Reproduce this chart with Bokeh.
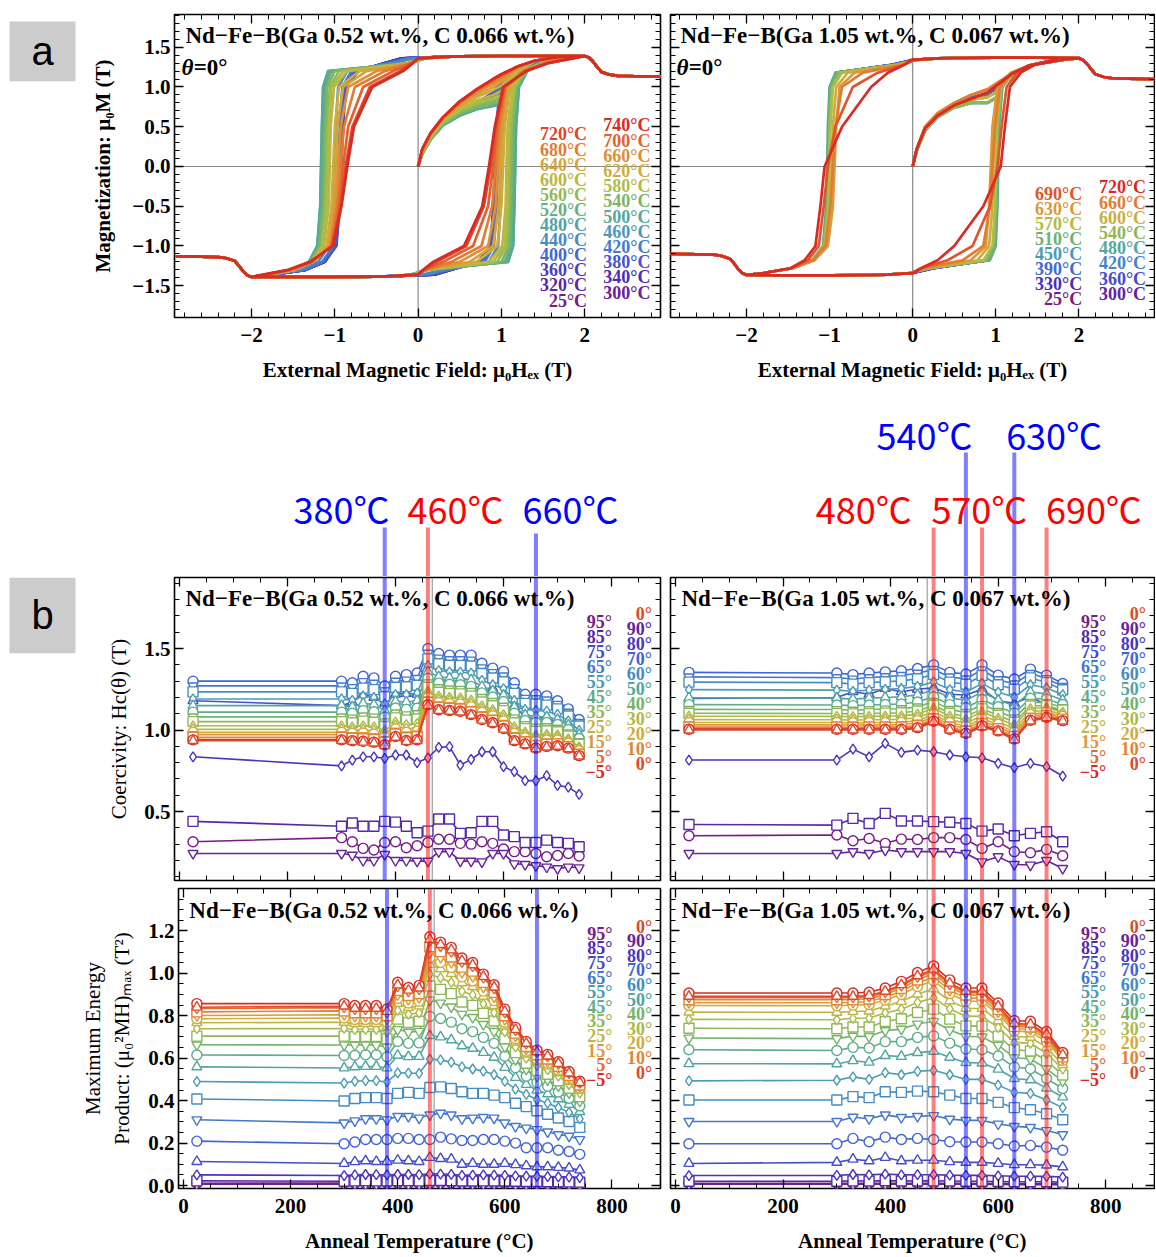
from bokeh.plotting import figure
from bokeh.models import (Range1d, LinearAxis, SingleIntervalTicker, Span, Label,
                          ColumnDataSource, BoxAnnotation, CustomJSTickFormatter,
                          CustomLabelingPolicy)
from bokeh.layouts import row, column
from bokeh.embed import file_html
from bokeh.resources import INLINE
from bokeh.core.properties import value

# ======================= DATA =======================
TEMPS_A = [25, 300, 320, 340, 360, 380, 400, 420, 440, 460, 480, 500, 520, 540, 560, 580, 600, 620, 640, 660, 680, 700, 720, 740]
TEMPS_B = [25, 300, 330, 360, 390, 420, 450, 480, 510, 540, 570, 600, 630, 660, 690, 720]

# ---- (a) hysteresis loops (theta = 0) ----
HEAD_X = [2.9, 2.6, 2.4, 2.3, 2.2, 2.15, 2.1, 2.05, 2.0, 1.5, 1.0, 0.5, 0.3]
HEAD_M_A = [1.13, 1.135, 1.14, 1.155, 1.19, 1.25, 1.32, 1.37, 1.39, 1.39, 1.39, 1.385, 1.38]
HEAD_M_B = [1.10, 1.105, 1.11, 1.125, 1.16, 1.22, 1.29, 1.34, 1.365, 1.37, 1.37, 1.365, 1.36]
LEVELS_A = [1.36, 1.30, 1.20, 1.00, 0.50, 0.00, -0.50, -1.00, -1.20, -1.30, -1.36]
LEVELS_B = [1.34, 1.28, 1.18, 1.00, 0.50, 0.00, -0.50, -1.00, -1.18, -1.28, -1.34]
INIT_X = [0, 0.05, 0.15, 0.3, 0.5, 0.7, 0.9, 1.0, 1.1, 1.2, 1.4, 1.7, 2.0]

DESC_A = [
    [-0.20, -0.40, -0.72, -0.88, -0.92, -0.94, -0.96, -1.00, -1.12, -1.35, -1.75],
    [-0.20, -0.40, -0.72, -0.88, -0.92, -0.94, -0.96, -1.00, -1.12, -1.35, -1.75],
    [-0.18, -0.40, -0.72, -0.88, -0.92, -0.94, -0.96, -1.00, -1.12, -1.35, -1.75],
    [-0.18, -0.38, -0.72, -0.88, -0.92, -0.935, -0.955, -1.00, -1.12, -1.35, -1.75],
    [-0.16, -0.38, -0.74, -0.88, -0.91, -0.93, -0.95, -0.99, -1.12, -1.35, -1.75],
    [-0.14, -0.36, -0.74, -0.87, -0.90, -0.92, -0.94, -0.98, -1.12, -1.35, -1.75],
    [-0.12, -0.36, -0.78, -0.90, -0.93, -0.95, -0.97, -1.01, -1.14, -1.36, -1.76],
    [-0.10, -0.36, -0.80, -0.91, -0.94, -0.96, -0.98, -1.02, -1.15, -1.37, -1.76],
    [-0.05, -0.30, -0.85, -0.96, -0.99, -1.01, -1.03, -1.07, -1.20, -1.42, -1.78],
    [0.06, -0.12, -1.04, -1.12, -1.14, -1.15, -1.16, -1.20, -1.30, -1.50, -1.80],
    [0.08, -0.10, -1.08, -1.14, -1.155, -1.165, -1.175, -1.21, -1.31, -1.51, -1.80],
    [0.08, -0.10, -1.08, -1.14, -1.155, -1.165, -1.175, -1.21, -1.31, -1.51, -1.80],
    [0.08, -0.10, -1.05, -1.11, -1.13, -1.14, -1.15, -1.19, -1.30, -1.50, -1.80],
    [0.07, -0.10, -1.00, -1.09, -1.11, -1.12, -1.135, -1.18, -1.29, -1.50, -1.80],
    [0.06, -0.10, -0.95, -1.06, -1.09, -1.10, -1.115, -1.16, -1.28, -1.49, -1.80],
    [0.05, -0.10, -0.90, -1.04, -1.07, -1.08, -1.095, -1.15, -1.28, -1.49, -1.80],
    [0.05, -0.10, -0.85, -1.01, -1.05, -1.06, -1.075, -1.13, -1.27, -1.48, -1.80],
    [0.04, -0.10, -0.70, -0.95, -1.00, -1.02, -1.04, -1.10, -1.26, -1.48, -1.80],
    [0.03, -0.09, -0.62, -0.90, -0.97, -0.99, -1.01, -1.08, -1.26, -1.48, -1.80],
    [0.02, -0.09, -0.50, -0.84, -0.93, -0.96, -0.99, -1.06, -1.26, -1.50, -1.82],
    [0.02, -0.08, -0.40, -0.76, -0.89, -0.93, -0.97, -1.05, -1.27, -1.52, -1.83],
    [0.01, -0.08, -0.30, -0.66, -0.84, -0.90, -0.95, -1.04, -1.28, -1.54, -1.84],
    [0.00, -0.07, -0.22, -0.58, -0.79, -0.87, -0.93, -1.03, -1.29, -1.55, -1.85],
    [0.00, -0.06, -0.18, -0.55, -0.77, -0.85, -0.92, -1.02, -1.30, -1.56, -1.86],
]
INIT_A = [
    [0, 0.18, 0.37, 0.56, 0.70, 0.80, 0.92, 1.08, 1.17, 1.24, 1.33, 1.38, 1.39],
    [0, 0.18, 0.37, 0.56, 0.70, 0.80, 0.92, 1.08, 1.17, 1.24, 1.33, 1.38, 1.39],
    [0, 0.18, 0.37, 0.56, 0.70, 0.80, 0.92, 1.08, 1.17, 1.24, 1.33, 1.38, 1.39],
    [0, 0.18, 0.37, 0.56, 0.70, 0.80, 0.92, 1.08, 1.17, 1.24, 1.33, 1.38, 1.39],
    [0, 0.18, 0.37, 0.56, 0.70, 0.80, 0.92, 1.08, 1.17, 1.24, 1.33, 1.38, 1.39],
    [0, 0.18, 0.37, 0.56, 0.70, 0.80, 0.93, 1.09, 1.17, 1.24, 1.33, 1.38, 1.39],
    [0, 0.18, 0.36, 0.55, 0.69, 0.79, 0.88, 1.02, 1.15, 1.23, 1.33, 1.38, 1.39],
    [0, 0.18, 0.36, 0.55, 0.68, 0.78, 0.86, 0.98, 1.13, 1.23, 1.33, 1.38, 1.39],
    [0, 0.17, 0.35, 0.54, 0.67, 0.76, 0.82, 0.90, 1.06, 1.21, 1.33, 1.38, 1.39],
    [0, 0.16, 0.34, 0.52, 0.64, 0.72, 0.77, 0.79, 0.95, 1.18, 1.33, 1.38, 1.39],
    [0, 0.16, 0.34, 0.52, 0.64, 0.72, 0.77, 0.79, 0.93, 1.17, 1.33, 1.38, 1.39],
    [0, 0.16, 0.34, 0.52, 0.64, 0.72, 0.76, 0.78, 0.92, 1.16, 1.33, 1.38, 1.39],
    [0, 0.16, 0.34, 0.52, 0.65, 0.73, 0.78, 0.80, 0.95, 1.18, 1.33, 1.38, 1.39],
    [0, 0.17, 0.35, 0.54, 0.67, 0.75, 0.80, 0.83, 0.99, 1.19, 1.33, 1.38, 1.39],
    [0, 0.17, 0.36, 0.55, 0.69, 0.78, 0.83, 0.87, 1.02, 1.20, 1.33, 1.38, 1.39],
    [0, 0.18, 0.37, 0.56, 0.71, 0.80, 0.86, 0.90, 1.05, 1.21, 1.33, 1.38, 1.39],
    [0, 0.18, 0.38, 0.57, 0.72, 0.83, 0.90, 0.95, 1.08, 1.22, 1.33, 1.38, 1.39],
    [0, 0.19, 0.39, 0.58, 0.75, 0.87, 0.96, 1.02, 1.12, 1.23, 1.33, 1.38, 1.39],
    [0, 0.20, 0.40, 0.60, 0.77, 0.90, 1.00, 1.07, 1.15, 1.24, 1.33, 1.38, 1.39],
    [0, 0.20, 0.41, 0.61, 0.79, 0.93, 1.04, 1.10, 1.17, 1.25, 1.33, 1.38, 1.39],
    [0, 0.21, 0.41, 0.62, 0.80, 0.95, 1.07, 1.13, 1.19, 1.25, 1.33, 1.38, 1.39],
    [0, 0.22, 0.42, 0.62, 0.81, 0.96, 1.09, 1.15, 1.20, 1.26, 1.33, 1.38, 1.39],
    [0, 0.22, 0.42, 0.62, 0.82, 0.97, 1.10, 1.16, 1.21, 1.26, 1.33, 1.38, 1.39],
    [0, 0.22, 0.42, 0.62, 0.82, 0.97, 1.10, 1.16, 1.21, 1.26, 1.33, 1.38, 1.39],
]
DESC_B = [
    [0.00, -0.25, -0.90, -0.98, -1.00, -1.01, -1.02, -1.06, -1.20, -1.45, -1.80],
    [0.00, -0.25, -0.90, -0.98, -1.00, -1.01, -1.02, -1.06, -1.20, -1.45, -1.80],
    [0.00, -0.25, -0.90, -0.98, -1.00, -1.01, -1.02, -1.06, -1.20, -1.45, -1.80],
    [0.01, -0.24, -0.90, -0.98, -1.00, -1.015, -1.025, -1.065, -1.20, -1.45, -1.80],
    [0.02, -0.23, -0.91, -0.99, -1.01, -1.02, -1.03, -1.07, -1.20, -1.45, -1.80],
    [0.03, -0.22, -0.91, -0.99, -1.01, -1.02, -1.03, -1.07, -1.20, -1.45, -1.80],
    [0.05, -0.20, -0.92, -0.99, -1.01, -1.02, -1.03, -1.07, -1.20, -1.45, -1.80],
    [0.05, -0.20, -0.93, -1.00, -1.02, -1.03, -1.04, -1.08, -1.21, -1.46, -1.80],
    [0.05, -0.20, -0.92, -0.99, -1.01, -1.02, -1.03, -1.07, -1.20, -1.45, -1.80],
    [0.04, -0.19, -0.88, -0.97, -1.00, -1.01, -1.02, -1.07, -1.20, -1.45, -1.80],
    [0.04, -0.18, -0.85, -0.96, -0.99, -1.00, -1.01, -1.06, -1.20, -1.45, -1.80],
    [0.03, -0.16, -0.78, -0.92, -0.96, -0.97, -0.99, -1.04, -1.19, -1.44, -1.80],
    [0.03, -0.15, -0.70, -0.88, -0.92, -0.94, -0.96, -1.02, -1.18, -1.44, -1.80],
    [0.02, -0.12, -0.60, -0.85, -0.93, -0.96, -0.99, -1.05, -1.20, -1.45, -1.80],
    [0.01, -0.10, -0.42, -0.72, -0.93, -1.02, -1.07, -1.13, -1.26, -1.47, -1.80],
    [-0.02, -0.10, -0.30, -0.50, -0.85, -1.06, -1.11, -1.17, -1.30, -1.47, -1.78],
]
INIT_B = [
    [0, 0.22, 0.49, 0.65, 0.78, 0.86, 0.92, 0.98, 1.08, 1.17, 1.27, 1.34, 1.36],
    [0, 0.22, 0.49, 0.65, 0.78, 0.86, 0.92, 0.98, 1.08, 1.17, 1.27, 1.34, 1.36],
    [0, 0.22, 0.49, 0.65, 0.78, 0.86, 0.92, 0.98, 1.08, 1.17, 1.27, 1.34, 1.36],
    [0, 0.22, 0.49, 0.65, 0.78, 0.86, 0.92, 0.98, 1.08, 1.17, 1.27, 1.34, 1.36],
    [0, 0.22, 0.49, 0.65, 0.78, 0.86, 0.92, 0.98, 1.08, 1.17, 1.27, 1.34, 1.36],
    [0, 0.21, 0.48, 0.64, 0.77, 0.84, 0.88, 0.93, 1.06, 1.16, 1.27, 1.34, 1.36],
    [0, 0.20, 0.45, 0.62, 0.74, 0.80, 0.80, 0.86, 1.04, 1.15, 1.27, 1.34, 1.36],
    [0, 0.20, 0.45, 0.62, 0.74, 0.80, 0.80, 0.86, 1.04, 1.15, 1.27, 1.34, 1.36],
    [0, 0.20, 0.45, 0.62, 0.74, 0.80, 0.80, 0.86, 1.04, 1.15, 1.27, 1.34, 1.36],
    [0, 0.20, 0.45, 0.62, 0.74, 0.80, 0.81, 0.87, 1.04, 1.15, 1.27, 1.34, 1.36],
    [0, 0.21, 0.47, 0.64, 0.77, 0.84, 0.87, 0.93, 1.07, 1.16, 1.27, 1.34, 1.36],
    [0, 0.21, 0.47, 0.64, 0.77, 0.84, 0.87, 0.93, 1.07, 1.16, 1.27, 1.34, 1.36],
    [0, 0.23, 0.50, 0.67, 0.80, 0.90, 0.97, 1.04, 1.11, 1.18, 1.27, 1.34, 1.36],
    [0, 0.23, 0.50, 0.67, 0.80, 0.90, 0.97, 1.04, 1.11, 1.18, 1.27, 1.34, 1.36],
    [0, 0.22, 0.48, 0.64, 0.77, 0.85, 0.93, 1.01, 1.09, 1.17, 1.27, 1.34, 1.36],
    [0, 0.22, 0.48, 0.64, 0.77, 0.85, 0.93, 1.01, 1.09, 1.17, 1.27, 1.34, 1.36],
]
LEG_A_LEFT = [720, 680, 640, 600, 560, 520, 480, 440, 400, 360, 320, 25]
LEG_A_RIGHT = [740, 700, 660, 620, 580, 540, 500, 460, 420, 380, 340, 300]
LEG_B_LEFT = [690, 630, 570, 510, 450, 390, 330, 25]
LEG_B_RIGHT = [720, 660, 600, 540, 480, 420, 360, 300]

# ---- (b) coercivity Hc(theta) vs anneal temperature ----
ANGLES = [-5, 0, 5, 10, 15, 20, 25, 30, 35, 40, 45, 50, 55, 60, 65, 70, 75, 80, 85, 90, 95]
ANG_LEG_LEFT = [95, 85, 75, 65, 55, 45, 35, 25, 15, 5, -5]
ANG_LEG_RIGHT = [0, 90, 80, 70, 60, 50, 40, 30, 20, 10, 0]

HC_A_M5 = [0.940, 0.940, 0.935, 0.931, 0.926, 0.910, 0.961, 0.936, 0.941, 1.155, 1.125, 1.120, 1.115, 1.095, 1.065, 1.045, 1.010, 0.935, 0.915, 0.890, 0.900, 0.904, 0.889, 0.843]
HC_A_0 = [0.935, 0.935, 0.930, 0.925, 0.920, 0.905, 0.955, 0.930, 0.935, 1.150, 1.120, 1.115, 1.110, 1.090, 1.060, 1.040, 1.005, 0.930, 0.910, 0.885, 0.895, 0.900, 0.885, 0.840]
HC_A_5 = [0.942, 0.942, 0.937, 0.933, 0.928, 0.912, 0.963, 0.938, 0.943, 1.157, 1.127, 1.122, 1.117, 1.097, 1.067, 1.047, 1.012, 0.937, 0.916, 0.892, 0.901, 0.906, 0.890, 0.845]
HC_A_10 = [0.955, 0.955, 0.950, 0.947, 0.942, 0.925, 0.976, 0.953, 0.958, 1.169, 1.139, 1.134, 1.129, 1.110, 1.079, 1.059, 1.025, 0.950, 0.927, 0.903, 0.912, 0.915, 0.898, 0.852]
HC_A_15 = [0.972, 0.972, 0.966, 0.966, 0.960, 0.942, 0.993, 0.971, 0.977, 1.185, 1.155, 1.150, 1.145, 1.127, 1.095, 1.074, 1.041, 0.966, 0.941, 0.919, 0.927, 0.928, 0.910, 0.863]
HC_A_20 = [0.986, 0.986, 0.980, 0.982, 0.976, 0.956, 1.008, 0.987, 0.993, 1.199, 1.169, 1.163, 1.159, 1.142, 1.109, 1.088, 1.055, 0.980, 0.953, 0.932, 0.939, 0.939, 0.919, 0.872]
HC_A_25 = [1.004, 1.004, 0.998, 1.002, 0.996, 0.974, 1.026, 1.008, 1.014, 1.217, 1.187, 1.181, 1.177, 1.160, 1.127, 1.105, 1.072, 0.998, 0.969, 0.949, 0.955, 0.953, 0.932, 0.883]
HC_A_30 = [1.026, 1.026, 1.020, 1.026, 1.020, 0.996, 1.049, 1.033, 1.039, 1.238, 1.208, 1.201, 1.198, 1.183, 1.148, 1.125, 1.094, 1.020, 0.988, 0.969, 0.974, 0.970, 0.946, 0.896]
HC_A_35 = [1.052, 1.052, 1.045, 1.055, 1.048, 1.022, 1.075, 1.061, 1.068, 1.262, 1.232, 1.225, 1.222, 1.208, 1.172, 1.149, 1.119, 1.045, 1.009, 0.992, 0.996, 0.990, 0.963, 0.912]
HC_A_40 = [1.081, 1.081, 1.074, 1.087, 1.080, 1.051, 1.105, 1.094, 1.101, 1.290, 1.260, 1.253, 1.250, 1.238, 1.200, 1.176, 1.147, 1.074, 1.034, 1.019, 1.021, 1.012, 0.983, 0.930]
HC_A_45 = [1.110, 1.110, 1.103, 1.119, 1.112, 1.080, 1.135, 1.127, 1.134, 1.318, 1.288, 1.281, 1.278, 1.268, 1.228, 1.203, 1.175, 1.103, 1.059, 1.046, 1.046, 1.034, 1.003, 0.948]
HC_A_50 = [1.150, 1.150, 1.142, 1.164, 1.156, 1.120, 1.176, 1.172, 1.180, 1.357, 1.327, 1.319, 1.317, 1.308, 1.267, 1.241, 1.214, 1.142, 1.093, 1.083, 1.081, 1.065, 1.030, 0.973]
HC_A_55 = [1.191, 1.191, 1.182, 1.209, 1.200, 1.161, 1.218, 1.217, 1.226, 1.395, 1.365, 1.357, 1.355, 1.349, 1.305, 1.278, 1.254, 1.182, 1.127, 1.120, 1.116, 1.096, 1.057, 0.998]
HC_A_60 = [1.234, 1.234, 1.225, 1.257, 1.248, 1.204, 1.263, 1.266, 1.275, 1.437, 1.407, 1.398, 1.397, 1.393, 1.347, 1.319, 1.296, 1.225, 1.164, 1.160, 1.153, 1.130, 1.086, 1.025]
HC_A_65 = [1.271, 1.271, 1.261, 1.298, 1.288, 1.241, 1.300, 1.307, 1.317, 1.472, 1.442, 1.432, 1.432, 1.430, 1.382, 1.353, 1.332, 1.261, 1.195, 1.193, 1.185, 1.158, 1.110, 1.047]
HC_A_70 = [1.30, 1.30, 1.29, 1.33, 1.32, 1.27, 1.33, 1.34, 1.35, 1.50, 1.47, 1.46, 1.46, 1.46, 1.41, 1.38, 1.36, 1.29, 1.22, 1.22, 1.21, 1.18, 1.13, 1.065]
HC_A_75 = [1.18, 1.15, 1.17, 1.22, 1.20, 1.165, 1.22, 1.225, 1.22, 1.31, 1.305, 1.305, 1.265, 1.275, 1.255, 1.255, 1.20, 1.15, 1.08, 1.07, 1.08, 1.04, 0.99, 0.935]
HC_A_80 = [0.836, 0.78, 0.816, 0.836, 0.836, 0.826, 0.847, 0.847, 0.80, 0.83, 0.894, 0.898, 0.785, 0.82, 0.867, 0.867, 0.775, 0.745, 0.69, 0.69, 0.72, 0.66, 0.65, 0.605]
HC_A_85 = [0.44, 0.41, 0.43, 0.41, 0.41, 0.44, 0.435, 0.41, 0.37, 0.38, 0.454, 0.454, 0.366, 0.37, 0.44, 0.44, 0.356, 0.346, 0.31, 0.31, 0.325, 0.31, 0.305, 0.284]
HC_A_90 = [0.243, 0.243, 0.233, 0.20, 0.20, 0.237, 0.20, 0.20, 0.196, 0.196, 0.254, 0.254, 0.196, 0.196, 0.192, 0.243, 0.243, 0.18, 0.176, 0.168, 0.16, 0.15, 0.16, 0.155]
HC_A_95 = [0.315, 0.34, 0.315, 0.274, 0.264, 0.31, 0.315, 0.278, 0.29, 0.31, 0.33, 0.33, 0.305, 0.30, 0.315, 0.305, 0.27, 0.254, 0.254, 0.243, 0.223, 0.23, 0.243, 0.227]

HC_B_M5 = [1.005, 1.005, 1.005, 1.005, 1.005, 1.005, 1.015, 1.055, 1.005, 0.980, 1.026, 0.995, 0.946, 1.060, 1.079, 1.058]
HC_B_0 = [1.0, 1.0, 1.0, 1.0, 1.0, 1.0, 1.01, 1.05, 1.0, 0.975, 1.02, 0.99, 0.94, 1.055, 1.075, 1.055]
HC_B_5 = [1.007, 1.007, 1.007, 1.007, 1.007, 1.007, 1.017, 1.057, 1.007, 0.982, 1.028, 0.997, 0.947, 1.061, 1.080, 1.060]
HC_B_10 = [1.018, 1.018, 1.017, 1.018, 1.018, 1.018, 1.028, 1.068, 1.018, 0.993, 1.039, 1.007, 0.959, 1.071, 1.088, 1.067]
HC_B_15 = [1.032, 1.032, 1.031, 1.032, 1.032, 1.033, 1.043, 1.082, 1.032, 1.008, 1.054, 1.021, 0.974, 1.084, 1.099, 1.076]
HC_B_20 = [1.046, 1.046, 1.044, 1.046, 1.046, 1.047, 1.058, 1.096, 1.046, 1.023, 1.069, 1.035, 0.988, 1.096, 1.109, 1.085]
HC_B_25 = [1.064, 1.063, 1.061, 1.063, 1.064, 1.066, 1.076, 1.113, 1.064, 1.041, 1.088, 1.052, 1.007, 1.112, 1.122, 1.097]
HC_B_30 = [1.085, 1.084, 1.082, 1.084, 1.086, 1.087, 1.098, 1.134, 1.085, 1.064, 1.111, 1.073, 1.030, 1.132, 1.138, 1.110]
HC_B_35 = [1.103, 1.102, 1.099, 1.102, 1.104, 1.106, 1.117, 1.152, 1.103, 1.082, 1.130, 1.091, 1.048, 1.148, 1.151, 1.122]
HC_B_40 = [1.127, 1.126, 1.122, 1.126, 1.129, 1.131, 1.142, 1.176, 1.127, 1.108, 1.157, 1.115, 1.074, 1.170, 1.169, 1.138]
HC_B_45 = [1.156, 1.154, 1.150, 1.154, 1.157, 1.160, 1.172, 1.204, 1.156, 1.137, 1.187, 1.143, 1.104, 1.195, 1.190, 1.157]
HC_B_50 = [1.198, 1.196, 1.190, 1.196, 1.200, 1.204, 1.216, 1.246, 1.198, 1.182, 1.233, 1.184, 1.149, 1.234, 1.222, 1.184]
HC_B_55 = [1.248, 1.245, 1.238, 1.245, 1.250, 1.255, 1.268, 1.295, 1.248, 1.233, 1.286, 1.233, 1.201, 1.278, 1.258, 1.217]
HC_B_60 = [1.294, 1.291, 1.282, 1.291, 1.296, 1.302, 1.315, 1.341, 1.294, 1.281, 1.335, 1.278, 1.250, 1.320, 1.292, 1.247]
HC_B_65 = [1.326, 1.322, 1.313, 1.322, 1.328, 1.335, 1.349, 1.372, 1.326, 1.314, 1.370, 1.309, 1.283, 1.348, 1.316, 1.268]
HC_B_70 = [1.354, 1.35, 1.34, 1.35, 1.357, 1.364, 1.378, 1.40, 1.354, 1.344, 1.40, 1.337, 1.313, 1.374, 1.337, 1.286]
HC_B_75 = [1.194, 1.20, 1.235, 1.22, 1.255, 1.235, 1.25, 1.26, 1.22, 1.215, 1.25, 1.18, 1.164, 1.204, 1.153, 1.108]
HC_B_80 = [0.816, 0.816, 0.883, 0.836, 0.918, 0.863, 0.877, 0.867, 0.847, 0.836, 0.83, 0.796, 0.769, 0.796, 0.775, 0.718]
HC_B_85 = [0.421, 0.417, 0.458, 0.427, 0.489, 0.442, 0.442, 0.438, 0.434, 0.427, 0.38, 0.393, 0.352, 0.366, 0.376, 0.315]
HC_B_90 = [0.243, 0.243, 0.254, 0.243, 0.264, 0.254, 0.254, 0.254, 0.254, 0.243, 0.192, 0.223, 0.176, 0.172, 0.20, 0.151]
HC_B_95 = [0.352, 0.356, 0.321, 0.335, 0.305, 0.331, 0.329, 0.34, 0.34, 0.329, 0.274, 0.315, 0.254, 0.247, 0.268, 0.229]

# ---- (b) maximum energy product vs anneal temperature ----
E_A_M5 = [0.857, 0.857, 0.848, 0.848, 0.848, 0.832, 0.958, 0.933, 0.943, 1.172, 1.147, 1.122, 1.072, 1.051, 0.996, 0.946, 0.831, 0.745, 0.679, 0.638, 0.618, 0.583, 0.537, 0.491]
E_A_0 = [0.84, 0.845, 0.835, 0.835, 0.835, 0.82, 0.945, 0.92, 0.93, 1.16, 1.135, 1.11, 1.06, 1.04, 0.985, 0.935, 0.82, 0.735, 0.67, 0.63, 0.61, 0.575, 0.53, 0.485]
E_A_5 = [0.834, 0.838, 0.829, 0.829, 0.829, 0.814, 0.937, 0.913, 0.923, 1.15, 1.125, 1.1, 1.051, 1.031, 0.977, 0.927, 0.814, 0.73, 0.666, 0.626, 0.606, 0.571, 0.527, 0.482]
E_A_10 = [0.818, 0.823, 0.814, 0.814, 0.814, 0.8, 0.919, 0.896, 0.905, 1.125, 1.102, 1.077, 1.029, 1.01, 0.957, 0.91, 0.8, 0.718, 0.655, 0.616, 0.596, 0.562, 0.519, 0.474]
E_A_15 = [0.801, 0.805, 0.797, 0.797, 0.797, 0.783, 0.899, 0.877, 0.885, 1.097, 1.075, 1.051, 1.004, 0.985, 0.935, 0.889, 0.783, 0.704, 0.643, 0.605, 0.585, 0.552, 0.509, 0.466]
E_A_20 = [0.786, 0.789, 0.782, 0.782, 0.782, 0.769, 0.881, 0.86, 0.868, 1.073, 1.051, 1.028, 0.983, 0.964, 0.916, 0.871, 0.769, 0.692, 0.633, 0.595, 0.576, 0.543, 0.502, 0.459]
E_A_25 = [0.767, 0.769, 0.763, 0.763, 0.763, 0.75, 0.858, 0.838, 0.846, 1.041, 1.021, 0.999, 0.955, 0.937, 0.891, 0.848, 0.751, 0.676, 0.619, 0.583, 0.563, 0.531, 0.491, 0.449]
E_A_30 = [0.739, 0.74, 0.735, 0.736, 0.736, 0.724, 0.825, 0.807, 0.813, 0.996, 0.978, 0.957, 0.915, 0.898, 0.856, 0.815, 0.725, 0.653, 0.6, 0.565, 0.546, 0.515, 0.476, 0.435]
E_A_35 = [0.704, 0.704, 0.701, 0.702, 0.702, 0.691, 0.784, 0.768, 0.774, 0.94, 0.924, 0.904, 0.865, 0.849, 0.811, 0.775, 0.692, 0.626, 0.576, 0.542, 0.524, 0.494, 0.458, 0.419]
E_A_40 = [0.663, 0.662, 0.661, 0.662, 0.662, 0.652, 0.735, 0.723, 0.727, 0.874, 0.86, 0.842, 0.807, 0.792, 0.759, 0.726, 0.654, 0.593, 0.548, 0.516, 0.498, 0.47, 0.437, 0.398]
E_A_45 = [0.615, 0.613, 0.614, 0.616, 0.616, 0.607, 0.679, 0.67, 0.672, 0.797, 0.787, 0.77, 0.739, 0.725, 0.698, 0.67, 0.609, 0.555, 0.515, 0.485, 0.468, 0.441, 0.411, 0.375]
E_A_50 = [0.559, 0.554, 0.559, 0.561, 0.561, 0.554, 0.613, 0.607, 0.608, 0.706, 0.7, 0.686, 0.658, 0.646, 0.627, 0.604, 0.556, 0.509, 0.476, 0.449, 0.432, 0.408, 0.382, 0.348]
E_A_55 = [0.49, 0.483, 0.491, 0.494, 0.494, 0.488, 0.531, 0.53, 0.528, 0.595, 0.592, 0.581, 0.559, 0.549, 0.539, 0.523, 0.491, 0.454, 0.429, 0.405, 0.388, 0.367, 0.345, 0.314]
E_A_60 = [0.408, 0.398, 0.41, 0.414, 0.414, 0.41, 0.434, 0.439, 0.434, 0.462, 0.465, 0.457, 0.442, 0.434, 0.434, 0.426, 0.414, 0.388, 0.372, 0.352, 0.336, 0.318, 0.302, 0.274]
E_A_65 = [0.31, 0.295, 0.305, 0.315, 0.315, 0.31, 0.326, 0.326, 0.318, 0.333, 0.341, 0.333, 0.315, 0.318, 0.321, 0.318, 0.295, 0.279, 0.271, 0.264, 0.253, 0.24, 0.233, 0.217]
E_A_70 = [0.209, 0.197, 0.205, 0.217, 0.217, 0.217, 0.222, 0.222, 0.217, 0.217, 0.228, 0.22, 0.212, 0.212, 0.217, 0.217, 0.209, 0.2, 0.178, 0.178, 0.178, 0.166, 0.16, 0.147]
E_A_75 = [0.113, 0.104, 0.112, 0.116, 0.113, 0.113, 0.119, 0.116, 0.113, 0.132, 0.127, 0.124, 0.1, 0.104, 0.1, 0.1, 0.104, 0.098, 0.093, 0.088, 0.088, 0.085, 0.082, 0.073]
E_A_80 = [0.05, 0.047, 0.05, 0.052, 0.051, 0.05, 0.052, 0.052, 0.051, 0.055, 0.054, 0.053, 0.048, 0.049, 0.05, 0.049, 0.048, 0.046, 0.044, 0.043, 0.042, 0.041, 0.04, 0.037]
E_A_85 = [0.022, 0.02, 0.022, 0.023, 0.022, 0.022, 0.023, 0.023, 0.022, 0.024, 0.024, 0.023, 0.021, 0.021, 0.022, 0.021, 0.021, 0.02, 0.019, 0.019, 0.018, 0.018, 0.017, 0.016]
E_A_90 = [0.006, 0.006, 0.006, 0.005, 0.005, 0.006, 0.005, 0.005, 0.005, 0.005, 0.007, 0.007, 0.005, 0.005, 0.005, 0.006, 0.006, 0.004, 0.004, 0.004, 0.004, 0.003, 0.004, 0.003]
E_A_95 = [0.011, 0.012, 0.011, 0.009, 0.009, 0.011, 0.011, 0.01, 0.01, 0.011, 0.012, 0.012, 0.011, 0.011, 0.011, 0.011, 0.009, 0.008, 0.008, 0.008, 0.007, 0.007, 0.008, 0.007]

E_B_M5 = [0.907, 0.907, 0.907, 0.911, 0.931, 0.962, 1.004, 1.035, 0.969, 0.931, 0.931, 0.86, 0.777, 0.774, 0.726, 0.627]
E_B_0 = [0.891, 0.891, 0.891, 0.895, 0.915, 0.946, 0.988, 1.019, 0.953, 0.915, 0.915, 0.845, 0.763, 0.76, 0.713, 0.616]
E_B_5 = [0.885, 0.885, 0.885, 0.889, 0.909, 0.94, 0.981, 1.011, 0.946, 0.908, 0.908, 0.839, 0.758, 0.755, 0.708, 0.612]
E_B_10 = [0.875, 0.875, 0.876, 0.879, 0.9, 0.929, 0.969, 0.999, 0.935, 0.898, 0.897, 0.83, 0.75, 0.747, 0.70, 0.606]
E_B_15 = [0.862, 0.861, 0.863, 0.866, 0.888, 0.915, 0.954, 0.983, 0.92, 0.883, 0.883, 0.818, 0.739, 0.736, 0.689, 0.598]
E_B_20 = [0.848, 0.847, 0.85, 0.853, 0.874, 0.9, 0.938, 0.965, 0.905, 0.868, 0.868, 0.805, 0.728, 0.724, 0.677, 0.589]
E_B_25 = [0.817, 0.816, 0.82, 0.822, 0.845, 0.867, 0.902, 0.926, 0.87, 0.835, 0.834, 0.776, 0.703, 0.698, 0.651, 0.569]
E_B_30 = [0.783, 0.781, 0.788, 0.789, 0.813, 0.831, 0.863, 0.884, 0.832, 0.798, 0.797, 0.744, 0.675, 0.67, 0.623, 0.548]
E_B_35 = [0.741, 0.739, 0.747, 0.747, 0.773, 0.786, 0.815, 0.831, 0.784, 0.752, 0.751, 0.704, 0.64, 0.634, 0.588, 0.521]
E_B_40 = [0.695, 0.692, 0.704, 0.702, 0.73, 0.737, 0.761, 0.774, 0.733, 0.703, 0.70, 0.661, 0.603, 0.596, 0.55, 0.492]
E_B_45 = [0.64, 0.636, 0.651, 0.648, 0.678, 0.678, 0.698, 0.705, 0.671, 0.643, 0.64, 0.61, 0.558, 0.55, 0.504, 0.457]
E_B_50 = [0.574, 0.573, 0.588, 0.581, 0.612, 0.608, 0.626, 0.632, 0.604, 0.579, 0.577, 0.548, 0.504, 0.498, 0.459, 0.417]
E_B_55 = [0.493, 0.496, 0.512, 0.50, 0.532, 0.522, 0.538, 0.543, 0.522, 0.50, 0.50, 0.473, 0.439, 0.434, 0.403, 0.367]
E_B_60 = [0.403, 0.403, 0.419, 0.414, 0.442, 0.439, 0.445, 0.442, 0.426, 0.41, 0.41, 0.392, 0.367, 0.357, 0.338, 0.31]
E_B_65 = [0.302, 0.302, 0.322, 0.315, 0.333, 0.321, 0.326, 0.33, 0.313, 0.307, 0.307, 0.29, 0.279, 0.274, 0.259, 0.24]
E_B_70 = [0.197, 0.197, 0.222, 0.206, 0.228, 0.217, 0.222, 0.217, 0.206, 0.205, 0.205, 0.197, 0.186, 0.189, 0.181, 0.166]
E_B_75 = [0.104, 0.109, 0.124, 0.116, 0.132, 0.116, 0.119, 0.119, 0.112, 0.109, 0.109, 0.104, 0.098, 0.098, 0.096, 0.088]
E_B_80 = [0.047, 0.048, 0.052, 0.05, 0.054, 0.05, 0.051, 0.051, 0.049, 0.048, 0.048, 0.046, 0.044, 0.044, 0.043, 0.04]
E_B_85 = [0.02, 0.02, 0.022, 0.021, 0.023, 0.021, 0.022, 0.022, 0.021, 0.02, 0.02, 0.019, 0.018, 0.018, 0.018, 0.016]
E_B_90 = [0.006, 0.006, 0.006, 0.006, 0.007, 0.006, 0.006, 0.006, 0.006, 0.006, 0.005, 0.005, 0.004, 0.004, 0.005, 0.004]
E_B_95 = [0.011, 0.011, 0.01, 0.011, 0.01, 0.01, 0.01, 0.011, 0.011, 0.01, 0.009, 0.01, 0.008, 0.008, 0.009, 0.007]

# marked anneal temperatures
MARK_A_BLUE = [380, 660]
MARK_A_RED = [460]
MARK_B_BLUE = [540, 630]
MARK_B_RED = [480, 570, 690]
GUIDE_T = 468

# ======================= STYLE / LAYOUT =======================
SERIF = "Liberation Serif"
MARK_FONT = "Noto Sans CJK JP"
LAB_W = 78
L_BL, L_FW, L_BR = 96, 486, 5
R_BL, R_FW, R_BR = 5, 484, 1
L_W = L_BL + L_FW + L_BR
R_W = R_BL + R_FW + R_BR
H_A, H_GAP, H_HC, H_E = 395, 181, 308, 371
A_BT, A_BB = 14, 78
HC_BT, HC_BB = 1, 4
E_BT, E_BB = 4, 62

XR_A_L = (-2.925, 2.91)
XR_A_R = (-2.914, 2.91)
YR_A = (-1.9, 1.912)
XR_B = (-9.3, 890.7)
YR_HC = (0.077, 1.936)
YR_E = (-0.014, 1.3995)

RAINBOW = [(0.0, (120, 28, 134)), (0.13, (75, 45, 185)), (0.25, (64, 100, 215)),
           (0.38, (72, 152, 190)), (0.48, (84, 170, 150)), (0.56, (120, 182, 100)),
           (0.66, (176, 188, 70)), (0.77, (216, 168, 58)), (0.88, (229, 118, 50)),
           (1.0, (217, 43, 35))]


def rainbow(t):
    t = min(max(t, 0.0), 1.0)
    for (t0, c0), (t1, c1) in zip(RAINBOW[:-1], RAINBOW[1:]):
        if t <= t1:
            f = (t - t0) / (t1 - t0)
            return "#%02x%02x%02x" % tuple(int(round(a + (b - a) * f)) for a, b in zip(c0, c1))
    return "#%02x%02x%02x" % RAINBOW[-1][1]


def temp_color(temps, t):
    return rainbow(temps.index(t) / (len(temps) - 1))


def angle_color(a):
    return rainbow((95 - a) / 100.0)


MARKER_CYCLE = ["triangle", "diamond", "square", "inverted_triangle", "circle"]


def marker_for(a):
    return MARKER_CYCLE[(a // 5) % 5]


def tick_fmt(dec):
    return CustomJSTickFormatter(
        code="var s = Math.abs(tick).toFixed(%d); return (tick < -1e-9 ? '\u2212' : '') + s;" % dec)


def frame_fig(w, h, xr, yr, bl, br, bt, bb):
    p = figure(width=w, height=h, x_range=Range1d(*xr), y_range=Range1d(*yr),
               x_axis_type=None, y_axis_type=None, output_backend="svg",
               toolbar_location=None, min_border_left=bl, min_border_right=br,
               min_border_top=bt, min_border_bottom=bb)
    p.outline_line_color = "black"
    p.outline_line_width = 1.6
    p.background_fill_color = "white"
    p.border_fill_color = "white"
    return p


def blank_fig(w, h, xr, yr, bl=0, br=0):
    p = figure(width=w, height=h, x_range=Range1d(*xr), y_range=Range1d(*yr),
               x_axis_type=None, y_axis_type=None, output_backend="svg",
               toolbar_location=None, min_border_left=bl, min_border_right=br,
               min_border_top=0, min_border_bottom=0)
    p.outline_line_color = None
    p.background_fill_color = "white"
    p.border_fill_color = "white"
    return p


def add_axes(p, xint, xminor, yint, yminor, xfmt=None, yfmt=None, xlabel=None, ylabel=None,
             ylabel_style="bold", xstand=13, ystand=10):
    xt = SingleIntervalTicker(interval=xint, num_minor_ticks=xminor)
    yt = SingleIntervalTicker(interval=yint, num_minor_ticks=yminor)
    for loc in ("below", "above", "left", "right"):
        ax = LinearAxis(ticker=xt if loc in ("below", "above") else yt)
        ax.axis_line_color = None
        ax.major_tick_in = 9
        ax.major_tick_out = 0
        ax.minor_tick_in = 5
        ax.minor_tick_out = 0
        ax.major_tick_line_width = 1.3
        ax.minor_tick_line_width = 1
        show = (loc == "below" and xfmt is not None) or (loc == "left" and yfmt is not None)
        if show:
            ax.formatter = xfmt if loc == "below" else yfmt
            ax.major_label_text_font = SERIF
            ax.major_label_text_font_style = "bold"
            ax.major_label_text_font_size = "21px"
            ax.major_label_text_color = "black"
            ax.major_label_standoff = 10 if loc == "below" else 4
        else:
            ax.major_label_text_font_size = "0px"
            ax.major_label_standoff = 0
            ax.major_label_policy = CustomLabelingPolicy(
                code="for (const i of indices) { indices.unset(i) } return indices")
        lab = xlabel if loc == "below" else (ylabel if loc == "left" else None)
        if lab:
            ax.axis_label = lab
            ax.axis_label_text_font = SERIF
            ax.axis_label_text_font_size = "21px"
            ax.axis_label_text_color = "black"
            ax.axis_label_text_font_style = "bold" if loc == "below" else ylabel_style
            ax.axis_label_standoff = xstand if loc == "below" else ystand
        p.add_layout(ax, loc)


def loop_path(head_m, levels, desc, init):
    outer = [(x, m) for x, m in zip(HEAD_X, head_m) if x > INIT_X[-1]][::-1]
    head = [(x, m) for x, m in zip(HEAD_X, head_m) if x > desc[0]]
    tail = [(-x, -m) for x, m in zip(HEAD_X[::-1], head_m[::-1]) if -x < desc[-1]]
    dx = [h[0] for h in head] + list(desc) + [t[0] for t in tail]
    dm = [h[1] for h in head] + list(levels) + [t[1] for t in tail]
    xs = list(INIT_X) + [o[0] for o in outer] + dx + [-x for x in dx]
    ms = list(init) + [o[1] for o in outer] + dm + [-m for m in dm]
    return xs, ms


def hyst_panel(p, temps, head_m, levels, descs, inits, title, leg_left, leg_right,
               x0px, legL_px, legR_px, legL_y, legR_y, step_l, step_r):
    p.add_layout(Span(location=0, dimension="height", line_color="#8a8a8a", line_width=1.2, level="underlay"))
    p.add_layout(Span(location=0, dimension="width", line_color="#8a8a8a", line_width=1.2, level="underlay"))
    for t, d, i in zip(temps, descs, inits):
        xs, ms = loop_path(head_m, levels, d, i)
        p.line(xs, ms, line_color=temp_color(temps, t), line_width=2.7, line_join="round")
    sx = lambda px: (px - x0px) / 83.3
    sy = lambda py: (166.0 - py) / 79.5
    p.add_layout(Label(x=sx(x0px - 232.7), y=sy(35), text=title, text_font=SERIF,
                       text_font_size="23px", text_font_style="bold", text_baseline="middle",
                       text_color="black"))
    p.add_layout(Label(x=sx(x0px - 236.7), y=sy(67), text="\u03b8", text_font=SERIF,
                       text_font_size="23px", text_font_style="bold italic", text_baseline="middle",
                       text_color="black"))
    p.add_layout(Label(x=sx(x0px - 224.5), y=sy(67), text="=0\u00b0", text_font=SERIF,
                       text_font_size="23px", text_font_style="bold", text_baseline="middle",
                       text_color="black"))
    xs_, ys_, tx, cs = [], [], [], []
    for k, t in enumerate(leg_left):
        xs_.append(sx(legL_px)); ys_.append(sy(legL_y + k * step_l))
        tx.append("%d\u00b0C" % t); cs.append(temp_color(temps, t))
    for k, t in enumerate(leg_right):
        xs_.append(sx(legR_px)); ys_.append(sy(legR_y + k * step_r))
        tx.append("%d\u00b0C" % t); cs.append(temp_color(temps, t))
    src = ColumnDataSource(dict(x=xs_, y=ys_, text=tx, color=cs))
    p.text(x="x", y="y", text="text", text_color="color", source=src,
           text_font=value(SERIF), text_font_style="bold", text_font_size=value("18px"),
           text_align="right", text_baseline="middle")


def angle_panel(p, temps, series, title, ymap, title_py, legL_py, legR_py, step, blue, red):
    order = [95, 90, 85, 80, 75, 70, 65, 60, 55, 50, 45, 40, 35, 30, 25, 20, 15, 10, 5, -5, 0]
    p.add_layout(Span(location=GUIDE_T, dimension="height", line_color="#8a8a8a", line_width=1, level="underlay"))
    for a in order:
        ys = series[a]
        c = angle_color(a)
        p.line(temps, ys, line_color=c, line_width=1.6)
        p.scatter(temps, ys, marker=marker_for(a), size=10, fill_color="white",
                  line_color=c, line_width=1.4)
    for t in blue:
        p.add_layout(Span(location=t, dimension="height", line_color="#0000ff", line_alpha=0.5, line_width=4))
    for t in red:
        p.add_layout(Span(location=t, dimension="height", line_color="#ff0000", line_alpha=0.5, line_width=4))
    p.add_layout(Label(x=11, y=ymap(title_py), text=title, text_font=SERIF,
                       text_font_size="23px", text_font_style="bold", text_baseline="middle",
                       text_color="black"))
    xs_, ys_, tx, cs = [], [], [], []
    for k, a in enumerate(ANG_LEG_LEFT):
        xs_.append(801); ys_.append(ymap(legL_py + k * step))
        tx.append(("\u2212%d\u00b0" % -a) if a < 0 else "%d\u00b0" % a); cs.append(angle_color(a))
    for k, a in enumerate(ANG_LEG_RIGHT):
        xs_.append(875); ys_.append(ymap(legR_py + k * step))
        tx.append("%d\u00b0" % a); cs.append(angle_color(a))
    src = ColumnDataSource(dict(x=xs_, y=ys_, text=tx, color=cs))
    p.text(x="x", y="y", text="text", text_color="color", source=src,
           text_font=value(SERIF), text_font_style="bold", text_font_size=value("18px"),
           text_align="right", text_baseline="middle")


TITLE_A = "Nd\u2212Fe\u2212B(Ga 0.52 wt.%, C 0.066 wt.%)"
TITLE_B = "Nd\u2212Fe\u2212B(Ga 1.05 wt.%, C 0.067 wt.%)"
XLAB_A = "External Magnetic Field: \u03bc\u2080H\u2091\u2093 (T)"
XLAB_B = "Anneal Temperature (\u00b0C)"

# ---------- row (a) ----------
lab_a = blank_fig(LAB_W, H_A, (0, LAB_W), (0, H_A))
lab_a.add_layout(BoxAnnotation(left=9, right=75, top=H_A - 9, bottom=H_A - 87,
                               fill_color="#cccccc", fill_alpha=1, line_color=None))
lab_a.add_layout(Label(x=42, y=H_A - 47, text="a", text_font="Liberation Sans", text_font_size="40px",
                       text_align="center", text_baseline="middle", text_color="black"))

pa_l = frame_fig(L_W, H_A, XR_A_L, YR_A, L_BL, L_BR, A_BT, A_BB)
add_axes(pa_l, 1, 5, 0.5, 5, xfmt=tick_fmt(0), yfmt=tick_fmt(1), xlabel=XLAB_A,
         ylabel="Magnetization: \u03bc\u2080M (T)", ylabel_style="bold", xstand=13, ystand=14)
hyst_panel(pa_l, TEMPS_A, HEAD_M_A, LEVELS_A, DESC_A, INIT_A, TITLE_A, LEG_A_LEFT, LEG_A_RIGHT,
           417.7, 586.7, 650.0, 134.0, 125.0, 15.1, 15.2)

pa_r = frame_fig(R_W, H_A, XR_A_R, YR_A, R_BL, R_BR, A_BT, A_BB)
add_axes(pa_r, 1, 5, 0.5, 5, xfmt=tick_fmt(0), yfmt=None, xlabel=XLAB_A, xstand=13)
hyst_panel(pa_r, TEMPS_B, HEAD_M_B, LEVELS_B, DESC_B, INIT_B, TITLE_B, LEG_B_LEFT, LEG_B_RIGHT,
           912.7, 1082.7, 1146.7, 194.0, 187.0, 14.9, 15.2)

# ---------- gap row with the marked temperatures ----------
lab_g = blank_fig(LAB_W, H_GAP, (0, LAB_W), (0, H_GAP))
g_l = blank_fig(L_W, H_GAP, XR_B, (0, H_GAP), L_BL, L_BR)
g_r = blank_fig(R_W, H_GAP, XR_B, (0, H_GAP), R_BL, R_BR)


def gap_marks(p, temps, tops, color, lab_x, lab_y):
    p.segment(x0=temps, x1=temps, y0=tops, y1=[0] * len(temps), line_color=color,
              line_alpha=0.5, line_width=4)
    src = ColumnDataSource(dict(x=lab_x, y=lab_y, text=["%d\u2103" % t for t in temps]))
    p.text(x="x", y="y", text="text", source=src, text_color=color,
           text_font=value(MARK_FONT), text_font_size=value("36px"),
           text_align="center", text_baseline="middle")


gap_marks(g_l, MARK_A_BLUE, [49, 43], "#0000ff", [300, 724], [69, 69])
gap_marks(g_l, MARK_A_RED, [49], "#ff0000", [511], [69])
gap_marks(g_r, MARK_B_BLUE, [124, 124], "#0000ff", [463, 704], [143, 143])
gap_marks(g_r, MARK_B_RED, [49, 49, 49], "#ff0000", [350, 565, 778], [69, 69, 69])

# ---------- coercivity row ----------
HC_A = dict(zip(ANGLES, [HC_A_M5, HC_A_0, HC_A_5, HC_A_10, HC_A_15, HC_A_20, HC_A_25, HC_A_30, HC_A_35,
                         HC_A_40, HC_A_45, HC_A_50, HC_A_55, HC_A_60, HC_A_65, HC_A_70, HC_A_75, HC_A_80,
                         HC_A_85, HC_A_90, HC_A_95]))
HC_B = dict(zip(ANGLES, [HC_B_M5, HC_B_0, HC_B_5, HC_B_10, HC_B_15, HC_B_20, HC_B_25, HC_B_30, HC_B_35,
                         HC_B_40, HC_B_45, HC_B_50, HC_B_55, HC_B_60, HC_B_65, HC_B_70, HC_B_75, HC_B_80,
                         HC_B_85, HC_B_90, HC_B_95]))
E_A = dict(zip(ANGLES, [E_A_M5, E_A_0, E_A_5, E_A_10, E_A_15, E_A_20, E_A_25, E_A_30, E_A_35,
                        E_A_40, E_A_45, E_A_50, E_A_55, E_A_60, E_A_65, E_A_70, E_A_75, E_A_80,
                        E_A_85, E_A_90, E_A_95]))
E_B = dict(zip(ANGLES, [E_B_M5, E_B_0, E_B_5, E_B_10, E_B_15, E_B_20, E_B_25, E_B_30, E_B_35,
                        E_B_40, E_B_45, E_B_50, E_B_55, E_B_60, E_B_65, E_B_70, E_B_75, E_B_80,
                        E_B_85, E_B_90, E_B_95]))

hc_map = lambda py: 1.0 + (730.0 - py) / 163.0
e_map = lambda py: (1190.0 - py) / 215.0

lab_hc = blank_fig(LAB_W, H_HC, (0, LAB_W), (0, H_HC))
lab_hc.add_layout(BoxAnnotation(left=9, right=75, top=H_HC, bottom=H_HC - 77,
                                fill_color="#cccccc", fill_alpha=1, line_color=None))
lab_hc.add_layout(Label(x=42, y=H_HC - 38, text="b", text_font="Liberation Sans", text_font_size="40px",
                        text_align="center", text_baseline="middle", text_color="black"))

phc_l = frame_fig(L_W, H_HC, XR_B, YR_HC, L_BL, L_BR, HC_BT, HC_BB)
add_axes(phc_l, 200, 4, 0.5, 5, xfmt=None, yfmt=tick_fmt(1),
         ylabel="Coercivity: Hc(\u03b8) (T)", ylabel_style="normal", ystand=10)
angle_panel(phc_l, TEMPS_A, HC_A, TITLE_A, hc_map, 598, 621.7, 614.3, 15.0, MARK_A_BLUE, MARK_A_RED)

phc_r = frame_fig(R_W, H_HC, XR_B, YR_HC, R_BL, R_BR, HC_BT, HC_BB)
add_axes(phc_r, 200, 4, 0.5, 5)
angle_panel(phc_r, TEMPS_B, HC_B, TITLE_B, hc_map, 598, 621.7, 614.3, 15.0, MARK_B_BLUE, MARK_B_RED)

# ---------- energy product row ----------
lab_e = blank_fig(LAB_W, H_E, (0, LAB_W), (0, H_E))

pe_l = frame_fig(L_W, H_E, XR_B, YR_E, L_BL, L_BR, E_BT, E_BB)
add_axes(pe_l, 200, 4, 0.2, 4, xfmt=tick_fmt(0), yfmt=tick_fmt(1), xlabel=XLAB_B,
         ylabel="Maximum Energy\nProduct: (\u03bc\u2080\u00b2MH)\u2098\u2090\u2093 (T\u00b2)",
         ylabel_style="normal", xstand=13, ystand=11)
angle_panel(pe_l, TEMPS_A, E_A, TITLE_A, e_map, 911, 935, 927.7, 14.8, MARK_A_BLUE, MARK_A_RED)

pe_r = frame_fig(R_W, H_E, XR_B, YR_E, R_BL, R_BR, E_BT, E_BB)
add_axes(pe_r, 200, 4, 0.2, 4, xfmt=tick_fmt(0), yfmt=None, xlabel=XLAB_B, xstand=13)
angle_panel(pe_r, TEMPS_B, E_B, TITLE_B, e_map, 911, 935, 927.7, 14.8, MARK_B_BLUE, MARK_B_RED)

layout = column(
    row(lab_a, pa_l, pa_r),
    row(lab_g, g_l, g_r),
    row(lab_hc, phc_l, phc_r),
    row(lab_e, pe_l, pe_r),
)

open("out.html", "w").write(file_html(layout, INLINE))
